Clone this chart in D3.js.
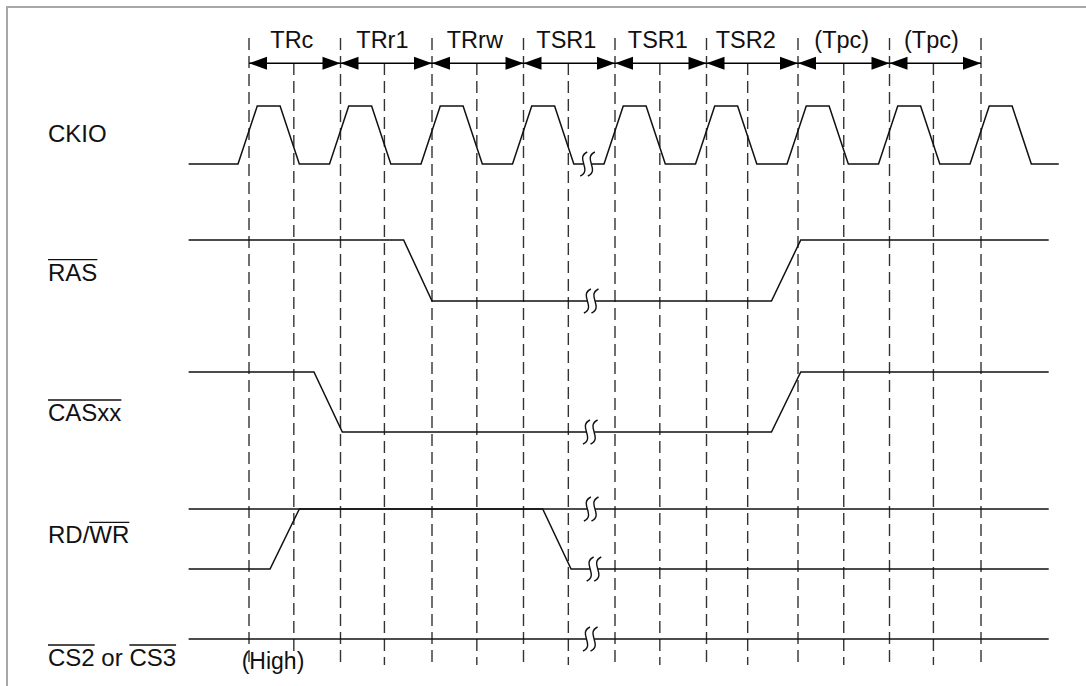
<!DOCTYPE html>
<html><head><meta charset="utf-8">
<script src="https://cdn.jsdelivr.net/npm/d3@7"></script>
<style>html,body{margin:0;padding:0;background:#fff}svg{display:block}</style>
</head><body>
<script>
// ---- data (time in clock cycles, 0 = start of TRc) ----
const cycleLabels = ["TRc","TRr1","TRrw","TSR1","TSR1","TSR2","(Tpc)","(Tpc)"];
const cycleBounds = [0,1,2,3,4,5,6,7,8];
const midLines = [0.49,1.48,2.49,3.49,4.49,5.45,6.50,7.48];
const signalNames = ["CKIO","RAS","CASxx","RD/WR","CS2 or CS3"];
const labelParts = [
  [["CKIO",0]],
  [["RAS",1]],
  [["CASxx",1]],
  [["RD/",0],["WR",1]],
  [["CS2",1],[" or ",0],["CS3",1]]
];
const clockWave = [[-0.66,0],
  [-0.12,0],[0.09,1],[0.34,1],[0.55,0],
  [0.88,0],[1.09,1],[1.34,1],[1.55,0],
  [1.88,0],[2.09,1],[2.34,1],[2.55,0],
  [2.88,0],[3.09,1],[3.34,1],[3.55,0],
  [3.88,0],[4.09,1],[4.34,1],[4.55,0],
  [4.88,0],[5.09,1],[5.34,1],[5.55,0],
  [5.88,0],[6.09,1],[6.34,1],[6.55,0],
  [6.88,0],[7.09,1],[7.34,1],[7.55,0],
  [7.88,0],[8.09,1],[8.34,1],[8.55,0],
  [8.85,0]];
const rasWave  = [[-0.66,1],[1.69,1],[2.00,0],[5.71,0],[6.03,1],[8.74,1]];
const casWave  = [[-0.66,1],[0.71,1],[1.02,0],[5.71,0],[6.03,1],[8.74,1]];
const rdwrHigh = [[-0.66,1],[8.74,1]];
const rdwrWave = [[-0.66,0],[0.23,0],[0.55,1],[3.21,1],[3.52,0],[8.74,0]];
const csWave   = [[-0.66,1],[8.74,1]];
// break marks: [signal index, time, level]
const breakMarks = [[0,3.70,0],[1,3.74,0],[2,3.73,0],[3,3.74,1],[3,3.77,0],[4,3.73,1]];
const highNote = "(High)";

// ---- layout ----
const W = 1086, H = 686;
const svg = d3.select("body").append("svg").attr("width",W).attr("height",H);
const x = d3.scaleLinear().domain([0,8]).range([249,981]);
const rowHigh = [106,240,372,509,639];
const rowLow  = [164,301,432,569,639];
const labelBase = [141.7,280.7,421,543.3,666];
const yRow = i => d3.scaleLinear().domain([0,1]).range([rowLow[i],rowHigh[i]]);
const FONT = "'Liberation Sans', Arial, Helvetica, sans-serif";

// frame (top & left visible)
svg.append("path").attr("d",`M7,${H} L7,7 L${W},7`).attr("fill","none")
  .attr("stroke","#a8a8a8").attr("stroke-width",2);

// dashed guides
const gDash = svg.append("g").attr("stroke","#333").attr("stroke-width",1.4)
  .attr("stroke-dasharray","12,6");
gDash.selectAll("line.b").data(cycleBounds).join("line").attr("class","b")
  .attr("x1",d=>x(d)).attr("x2",d=>x(d)).attr("y1",38).attr("y2",665);
gDash.selectAll("line.m").data(midLines).join("line").attr("class","m")
  .attr("x1",d=>x(d)).attr("x2",d=>x(d)).attr("y1",63).attr("y2",665);

// arrows and cycle labels
const arrowY = 63.3;
const gA = svg.append("g");
cycleLabels.forEach((lab,i)=>{
  const x0 = x(cycleBounds[i]), x1 = x(cycleBounds[i+1]);
  gA.append("line").attr("x1",x0).attr("x2",x1).attr("y1",arrowY).attr("y2",arrowY)
    .attr("stroke","#000").attr("stroke-width",1.5);
  gA.append("path").attr("d",`M${x0},${arrowY} L${x0+18},${arrowY-6.5} L${x0+18},${arrowY+6.5}Z`).attr("fill","#000");
  gA.append("path").attr("d",`M${x1},${arrowY} L${x1-18},${arrowY-6.5} L${x1-18},${arrowY+6.5}Z`).attr("fill","#000");
  gA.append("text").attr("x",x(midLines[i])-2).attr("y",48.3).attr("text-anchor","middle")
    .attr("font-family",FONT).attr("font-size",23.5).attr("fill","#111").text(lab);
});

// waveforms
const waves = [[0,clockWave],[1,rasWave],[2,casWave],[3,rdwrHigh],[3,rdwrWave],[4,csWave]];
const gW = svg.append("g").attr("fill","none").attr("stroke","#111").attr("stroke-width",1.5)
  .attr("stroke-linejoin","miter");
waves.forEach(([i,pts])=>{
  const y = yRow(i);
  gW.append("path").attr("d",d3.line().x(d=>x(d[0])).y(d=>y(d[1]))(pts));
});

// break marks
const gB = svg.append("g");
breakMarks.forEach(([i,t,lv])=>{
  const cx = x(t), cy = yRow(i)(lv);
  gB.append("rect").attr("x",cx-4).attr("y",cy-3).attr("width",8).attr("height",6).attr("fill","#fff");
  [-3.8,3.8].forEach(dx=>{
    const sx = cx+dx;
    gB.append("path")
      .attr("d",`M${sx+3.5},${cy-12} C${sx-9},${cy-6} ${sx+9},${cy+6} ${sx-3.5},${cy+12}`)
      .attr("fill","none").attr("stroke","#111").attr("stroke-width",1.4);
  });
});

// signal labels with overlines
labelParts.forEach((parts,i)=>{
  const t = svg.append("text").attr("x",48).attr("y",labelBase[i])
    .attr("font-family",FONT).attr("font-size",24).attr("fill","#111");
  parts.forEach(p=>t.append("tspan").text(p[0]));
  const node = t.node();
  let idx = 0;
  parts.forEach(p=>{
    if(p[1]){
      const off = idx>0 ? node.getSubStringLength(0,idx) : 0;
      const len = node.getSubStringLength(idx,p[0].length);
      svg.append("line").attr("x1",48+off).attr("x2",48+off+len)
        .attr("y1",labelBase[i]-21).attr("y2",labelBase[i]-21)
        .attr("stroke","#111").attr("stroke-width",1.3);
    }
    idx += p[0].length;
  });
});

// (High) note
svg.append("text").attr("x",x(-0.08)).attr("y",669).attr("font-family",FONT)
  .attr("font-size",23).attr("fill","#111").text(highNote);
</script>
</body></html>
